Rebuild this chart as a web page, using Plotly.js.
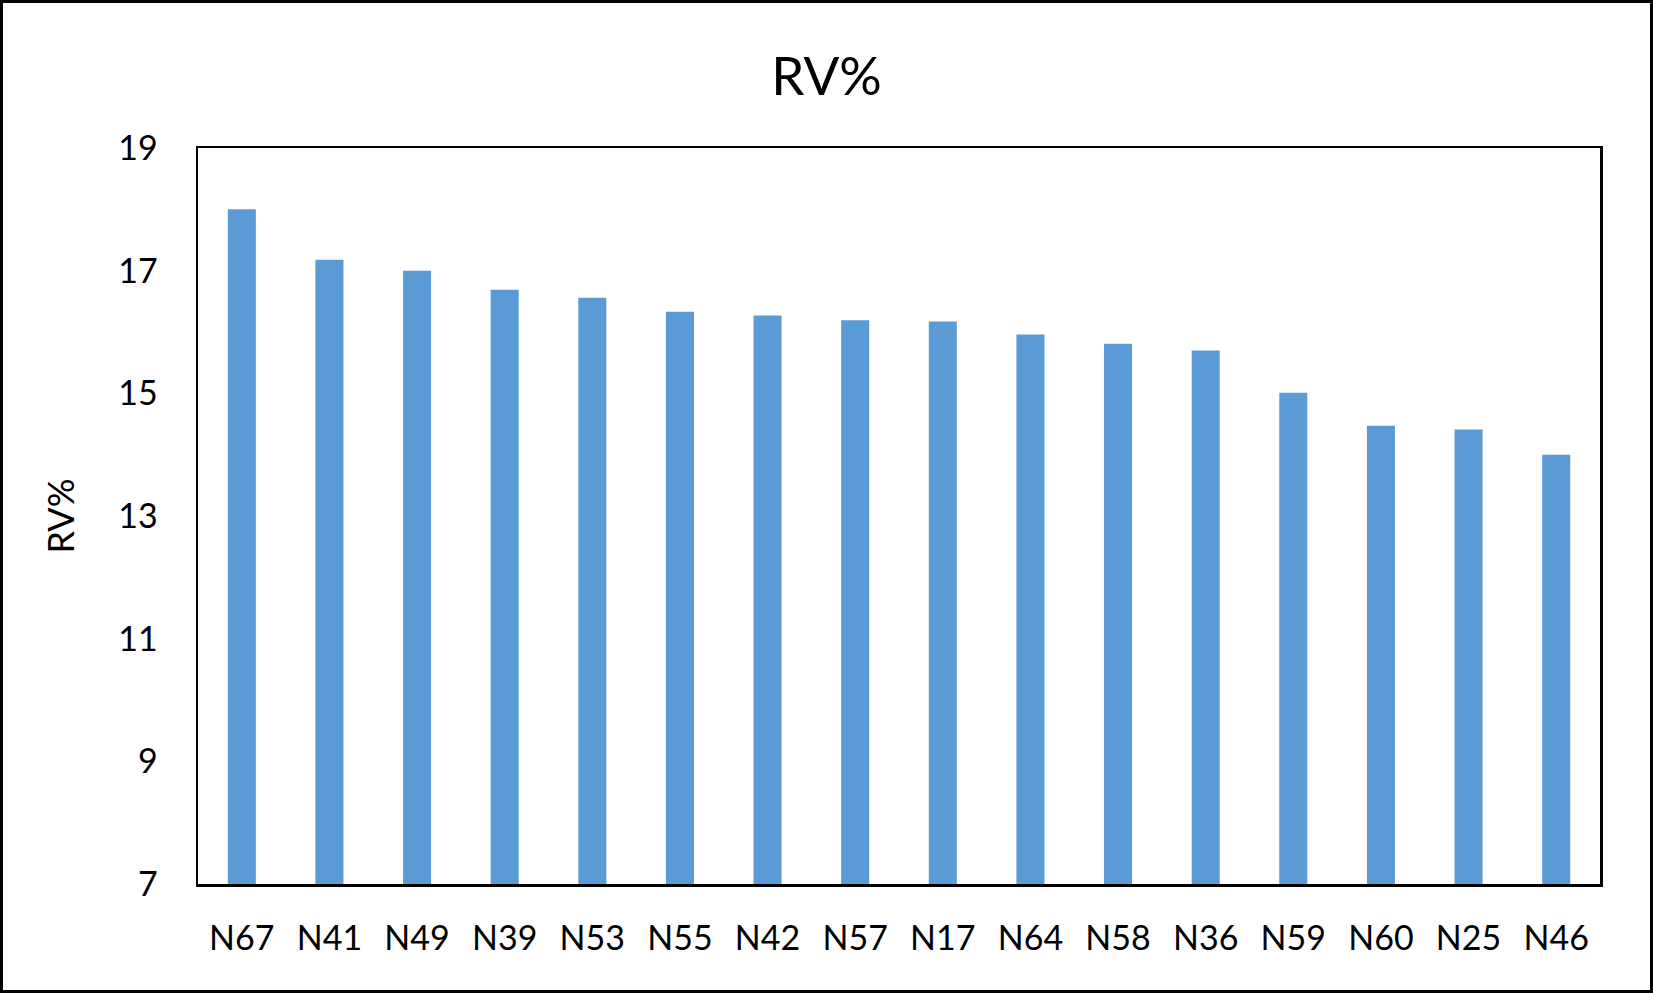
<!DOCTYPE html>
<html>
<head>
<meta charset="utf-8">
<script src="https://cdn.plot.ly/plotly-3.0.1.min.js"></script>
<style>
  body { margin: 0; background: #fff; }
  #frame { width: 1653px; height: 993px; box-sizing: border-box; border: 3px solid #000; }
</style>
</head>
<body>
<div id="frame"><div id="myDiv"></div></div>
<script>
const samples = ['N67', 'N41', 'N49', 'N39', 'N53', 'N55', 'N42', 'N57',
                 'N17', 'N64', 'N58', 'N36', 'N59', 'N60', 'N25', 'N46'];
const rvPercent = [18.0, 17.18, 17.0, 16.69, 16.56, 16.33, 16.27, 16.19,
                   16.17, 15.96, 15.81, 15.7, 15.01, 14.47, 14.41, 14.0];
const yTicks = [7, 9, 11, 13, 15, 17, 19];

const fontFamily = 'Lato, "Open Sans", sans-serif';

const trace = {
  x: samples,
  y: rvPercent,
  type: 'bar',
  marker: {color: '#5B9BD5'},
  width: 0.32,
  hoverinfo: 'x+y'
};

const layout = {
  width: 1647,
  height: 987,
  margin: {l: 195, r: 50, t: 145, b: 106},
  paper_bgcolor: '#ffffff',
  plot_bgcolor: '#ffffff',
  showlegend: false,
  title: {
    text: 'RV%',
    font: {family: fontFamily, size: 53, color: '#000'},
    xref: 'container',
    x: 0.5,
    yref: 'container',
    y: 0.926,
    yanchor: 'middle'
  },
  xaxis: {
    type: 'category',
    showgrid: false,
    zeroline: false,
    showline: true,
    mirror: true,
    linecolor: '#000',
    linewidth: 2.5,
    ticks: '',
    ticklabelstandoff: 23,
    tickfont: {family: fontFamily, size: 34, color: '#000'}
  },
  yaxis: {
    title: {
      text: 'RV%',
      font: {family: fontFamily, size: 36, color: '#000'},
      standoff: 33
    },
    range: [7, 19],
    tickvals: yTicks,
    ticktext: yTicks.map(String),
    showgrid: false,
    zeroline: false,
    showline: true,
    mirror: true,
    linecolor: '#000',
    linewidth: 2.5,
    ticks: '',
    ticklabelstandoff: 31,
    tickfont: {family: fontFamily, size: 34, color: '#000'}
  }
};

Plotly.newPlot('myDiv', [trace], layout, {displayModeBar: false, staticPlot: true});
</script>
</body>
</html>
